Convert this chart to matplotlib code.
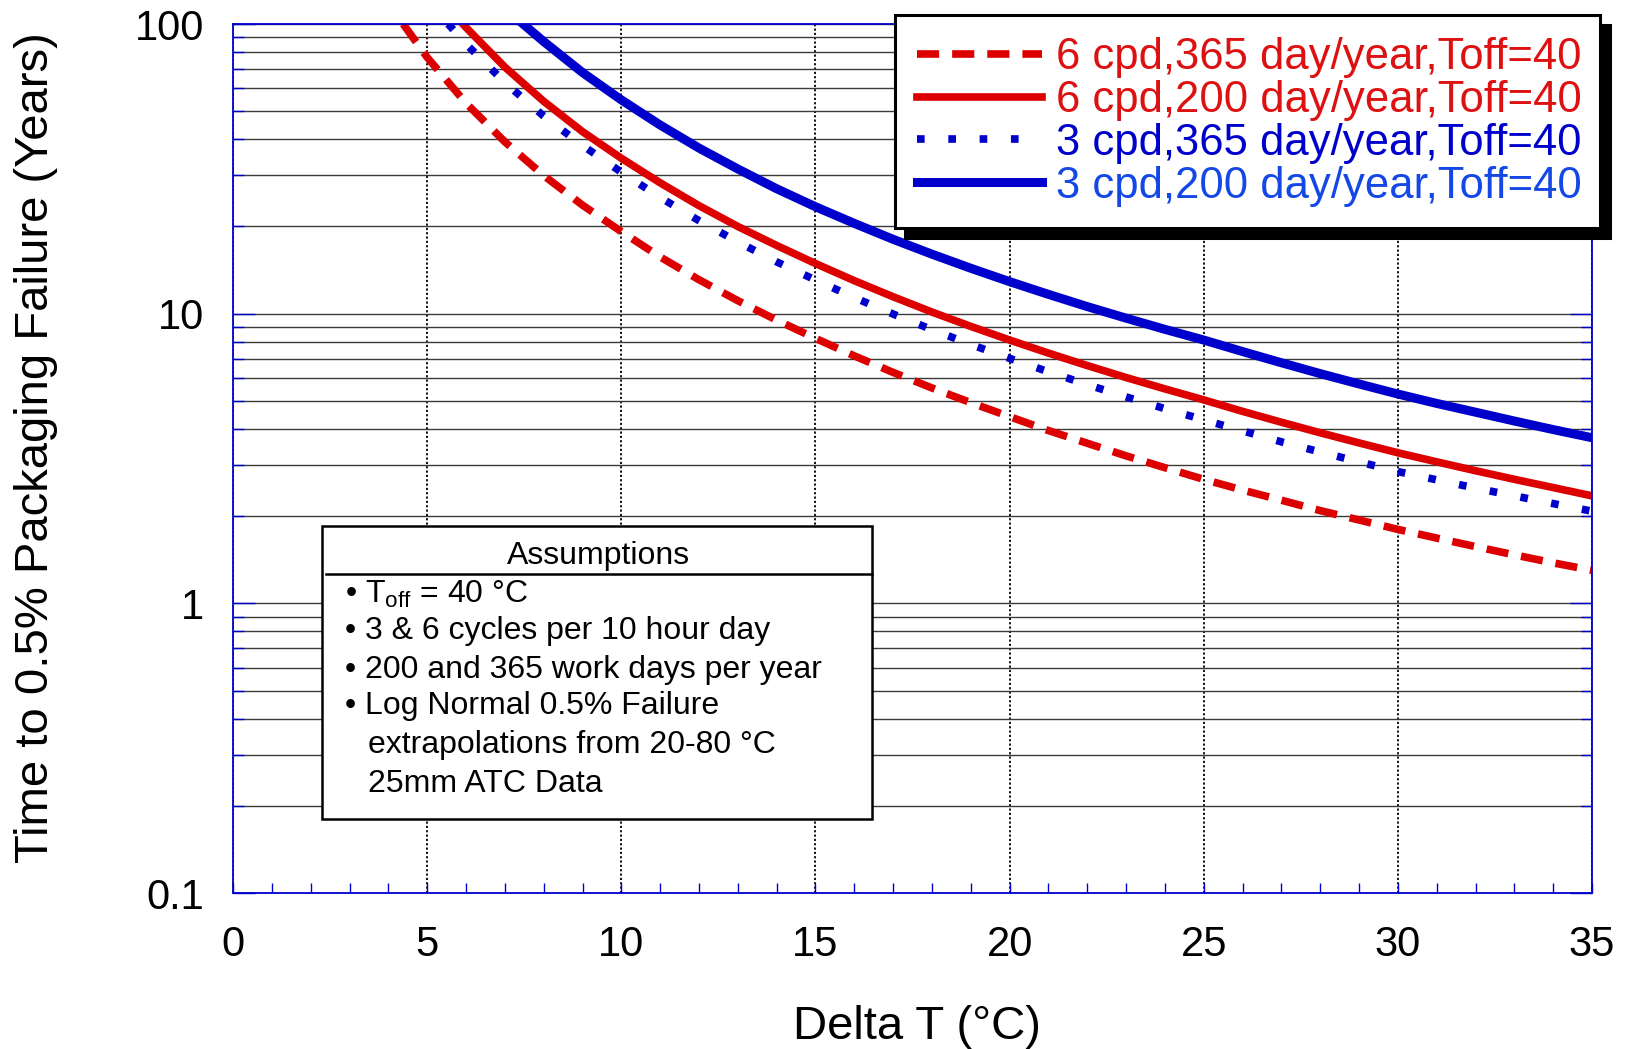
import matplotlib
matplotlib.use("Agg")
import matplotlib.pyplot as plt
from matplotlib.ticker import FixedLocator, MultipleLocator, LogLocator, NullFormatter
from matplotlib.lines import Line2D
from matplotlib.patches import Rectangle

plt.rcParams["font.family"] = ["Liberation Sans", "DejaVu Sans"]
plt.rcParams["mathtext.fontset"] = "custom"
plt.rcParams["mathtext.rm"] = "Liberation Sans"
plt.rcParams["mathtext.it"] = "Liberation Sans"

# Delta T (C) vs years to 0.5% packaging failure
dt_6cpd_365 = [4.38, 5, 6, 7, 8, 9, 10, 11, 12, 13, 14, 15, 16, 17, 18, 19, 20,
               21, 22, 23, 24, 25, 26, 27, 28, 29, 30, 31, 32, 33, 34, 35]
yrs_6cpd_365 = [100, 76.7, 53.3, 39.2, 30.0, 23.7, 19.2, 15.7, 13.1, 11.09, 9.50, 8.22,
                7.15, 6.27, 5.54, 4.93, 4.41, 3.95, 3.57, 3.23, 2.94, 2.68,
                2.46, 2.27, 2.09, 1.94, 1.80, 1.68, 1.57, 1.47, 1.38, 1.30]

dt_6cpd_200 = [5.92, 6, 7, 8, 9, 10, 11, 12, 13, 14, 15, 16, 17, 18, 19, 20,
               21, 22, 23, 24, 25, 26, 27, 28, 29, 30, 31, 32, 33, 34, 35]
yrs_6cpd_200 = [100, 97.3, 71.0, 54.1, 42.5, 34.4, 28.3, 23.6, 20.0, 17.2, 14.9,
                13.0, 11.44, 10.13, 9.04, 8.11, 7.31, 6.62, 6.02, 5.50, 5.04,
                4.60, 4.22, 3.88, 3.58, 3.31, 3.08, 2.87, 2.68, 2.51, 2.35]

dt_3cpd_365 = [5.54, 6, 7, 8, 9, 10, 11, 12, 13, 14, 15, 16, 17, 18, 19, 20,
               21, 22, 23, 24, 25, 26, 27, 28, 29, 30, 31, 32, 33, 34, 35]
yrs_3cpd_365 = [100, 85.3, 62.8, 48.1, 38.1, 30.8, 25.2, 20.95, 17.7, 15.1, 13.07,
                11.37, 9.97, 8.81, 7.83, 7.01, 6.30, 5.69, 5.16, 4.70, 4.30,
                3.94, 3.61, 3.33, 3.08, 2.85, 2.67, 2.50, 2.35, 2.21, 2.08]

dt_3cpd_200 = [7.47, 8, 9, 10, 11, 12, 13, 14, 15, 16, 17, 18, 19, 20,
               21, 22, 23, 24, 25, 26, 27, 28, 29, 30, 31, 32, 33, 34, 35]
yrs_3cpd_200 = [100, 87, 68, 54.7, 44.8, 37.3, 31.6, 27.0, 23.4, 20.5, 18.06, 16.05,
                14.35, 12.9, 11.66, 10.58, 9.65, 8.83, 8.11, 7.40, 6.77, 6.21,
                5.72, 5.28, 4.90, 4.57, 4.26, 3.98, 3.73]

labels = ["6 cpd,365 day/year,Toff=40", "6 cpd,200 day/year,Toff=40",
          "3 cpd,365 day/year,Toff=40", "3 cpd,200 day/year,Toff=40"]
label_colors = ["#DD1111", "#DD1111", "#0000CC", "#1448E6"]

x_ticks = [0, 5, 10, 15, 20, 25, 30, 35]
y_ticks = [0.1, 1, 10, 100]
y_tick_labels = ["0.1", "1", "10", "100"]

assumptions = [
    (0.082, "\u2022 T$_{\\mathrm{off}}$ = 40 \u00b0C"),
    (0.082, "\u2022 3 & 6 cycles per 10 hour day"),
    (0.082, "\u2022 200 and 365 work days per year"),
    (0.082, "\u2022 Log Normal 0.5% Failure"),
    (0.099, "extrapolations from 20-80 \u00b0C"),
    (0.099, "25mm ATC Data"),
]

RED = "#DD0000"
BLUE = "#0000CC"

fig = plt.figure(figsize=(16.31, 10.49), dpi=100)
ax = fig.add_axes([0.1429, 0.1487, 0.8332, 0.8284])

l1, = ax.plot(dt_6cpd_365, yrs_6cpd_365, color=RED, lw=5.5, dashes=(2.9, 1.7))
l2, = ax.plot(dt_6cpd_200, yrs_6cpd_200, color=RED, lw=5.5)
l3, = ax.plot(dt_3cpd_365, yrs_3cpd_365, color=BLUE, lw=5.5, dashes=(1, 3.1))
l4, = ax.plot(dt_3cpd_200, yrs_3cpd_200, color=BLUE, lw=6.5)

ax.set_yscale("log")
ax.set_xlim(0, 35)
ax.set_ylim(0.1, 100)

ax.xaxis.set_major_locator(FixedLocator(x_ticks))
ax.xaxis.set_minor_locator(MultipleLocator(1))
ax.yaxis.set_major_locator(FixedLocator(y_ticks))
ax.yaxis.set_major_formatter(plt.FixedFormatter(y_tick_labels))
ax.yaxis.set_minor_locator(LogLocator(base=10, subs=range(2, 10)))
ax.yaxis.set_minor_formatter(NullFormatter())

ax.set_axisbelow(True)
ax.grid(axis="x", which="major", color="black", lw=1.3, linestyle=(0, (1.2, 1.2)))
ax.grid(axis="y", which="both", color="#3a3a3a", lw=1.0, linestyle="-")

for sp in ax.spines.values():
    sp.set_color(BLUE)
    sp.set_linewidth(1.3)

ax.tick_params(axis="x", which="both", direction="in", color=BLUE, width=1.0,
               labelsize=30, pad=23)
ax.tick_params(axis="x", which="major", length=7)
ax.tick_params(axis="x", which="minor", length=7)
ax.tick_params(axis="y", which="both", direction="in", color=BLUE, width=1.0,
               left=True, right=True, labelsize=30, pad=21)
ax.tick_params(axis="y", which="major", length=16)
ax.tick_params(axis="y", which="minor", length=8)

ax.set_xlabel("Delta T (\u00b0C)", fontsize=34)
ax.set_ylabel("Time to 0.5% Packaging Failure (Years)", fontsize=34)
ax.xaxis.set_label_coords(0.503, -0.129)
ax.yaxis.set_label_coords(-0.129, 0.512)

leg_left, leg_right = 895 / 1631, 1600 / 1631
leg_top, leg_bottom = 1 - 15 / 1049, 1 - 227 / 1049
leg = ax.legend([l1, l2, l3, l4], labels, loc="upper left",
                bbox_to_anchor=(leg_left, leg_bottom, leg_right - leg_left, leg_top - leg_bottom),
                bbox_transform=fig.transFigure, mode="expand",
                fontsize=31.4, labelcolor=label_colors, handlelength=2.87,
                handletextpad=0.33, labelspacing=0.045, borderpad=0.5,
                borderaxespad=0, fancybox=False, framealpha=1,
                shadow={"ox": 7, "oy": -7, "facecolor": "black",
                        "edgecolor": "black", "alpha": 1})
leg.get_frame().set_edgecolor("black")
leg.get_frame().set_linewidth(2.2)
leg.set_zorder(10)

# assumptions box
ax.add_patch(Rectangle((0.0655, 0.0852), 0.4047, 0.3371, transform=ax.transAxes,
                       facecolor="white", edgecolor="black", lw=1.8, zorder=4))
ax.add_line(Line2D([0.0684, 0.470], [0.367, 0.367], transform=ax.transAxes,
                   color="black", lw=1.8, zorder=5))
ax.text(0.269, 0.388, "Assumptions", transform=ax.transAxes, ha="center",
        va="center", fontsize=23, zorder=6)
line_ys = [0.344, 0.302, 0.257, 0.215, 0.170, 0.126]
for (x, txt), y in zip(assumptions, line_ys):
    ax.text(x, y, txt, transform=ax.transAxes, ha="left", va="center",
            fontsize=23, zorder=6)

fig.savefig("out.png", dpi=100)
